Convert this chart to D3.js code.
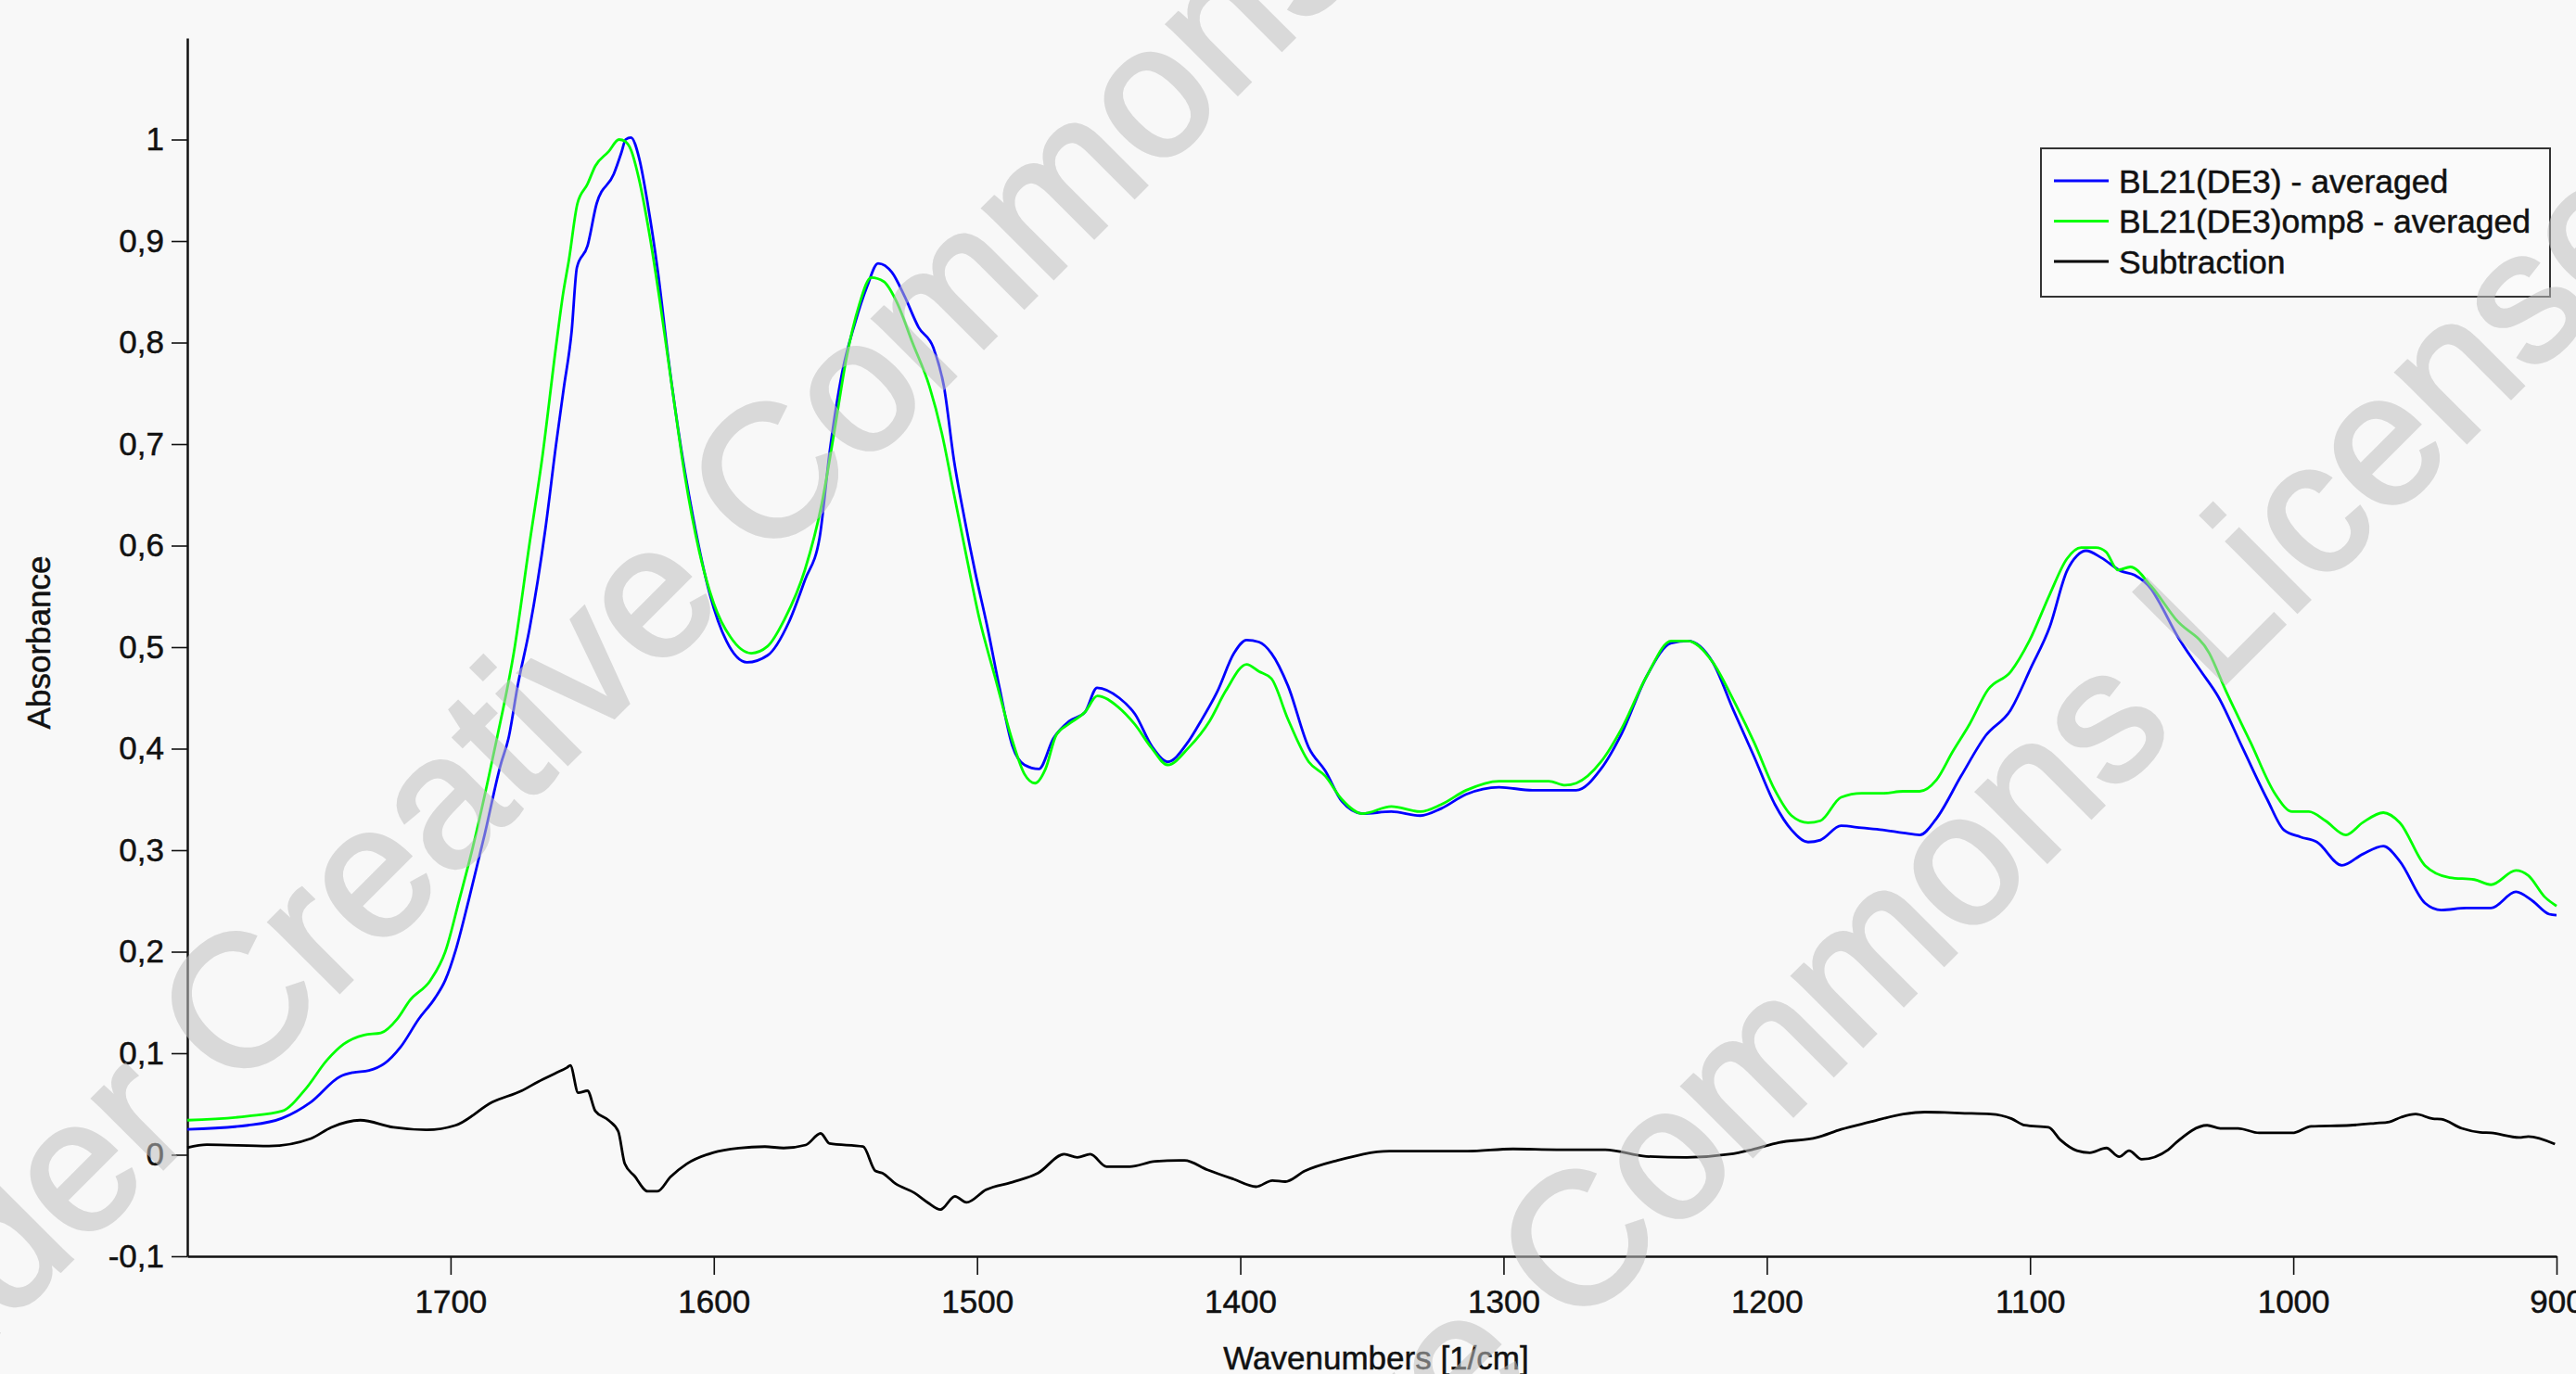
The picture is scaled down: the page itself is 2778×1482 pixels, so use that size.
<!DOCTYPE html>
<html>
<head>
<meta charset="utf-8">
<script src="https://cdn.jsdelivr.net/npm/d3@7"></script>
<style>
  body { margin: 0; background: #f8f8f8; }
  svg { display: block; }
  text { font-family: "Liberation Sans", Arial, sans-serif; }
</style>
</head>
<body>
<svg id="chart"></svg>
<script>
// values: [wavenumber 1/cm, absorbance]
let bl21 = [[1800,0.025],[1777,0.029],[1764,0.036],[1753,0.052],[1742,0.077],[1737,0.081],[1731,0.083],[1725,0.090],[1719,0.106],[1712,0.134],[1706,0.154],[1702,0.172],[1698,0.202],[1693,0.252],[1687,0.316],[1681,0.384],[1678,0.41],[1674.5,0.462],[1670,0.518],[1664,0.616],[1660,0.698],[1657,0.755],[1654,0.811],[1652,0.874],[1648,0.895],[1644.5,0.937],[1638,0.966],[1635,0.988],[1633.5,1.0],[1631.5,1.002],[1628.3,0.981],[1625,0.935],[1621.2,0.869],[1617.3,0.785],[1612.5,0.697],[1607.8,0.627],[1601.5,0.552],[1595.2,0.506],[1587.4,0.485],[1579.5,0.492],[1571.6,0.524],[1565.4,0.566],[1559.8,0.608],[1556,0.692],[1551.2,0.771],[1546.5,0.818],[1541.8,0.855],[1537.6,0.878],[1532.3,0.869],[1527.6,0.846],[1522.2,0.815],[1516.6,0.795],[1512.6,0.757],[1508.7,0.683],[1504.8,0.627],[1500.8,0.575],[1496.1,0.52],[1491.4,0.459],[1486.6,0.403],[1482,0.384],[1476.5,0.380],[1471,0.41],[1465,0.427],[1459,0.436],[1454.4,0.46],[1446,0.450],[1440,0.434],[1433.5,0.402],[1427.6,0.387],[1420,0.406],[1415,0.427],[1408.6,0.457],[1402.4,0.494],[1397.6,0.507],[1392.9,0.505],[1388.2,0.494],[1381.9,0.462],[1374,0.401],[1367.7,0.378],[1361.4,0.348],[1353.6,0.336],[1342.6,0.338],[1331.6,0.334],[1323.7,0.341],[1314.2,0.355],[1301.7,0.362],[1289,0.359],[1272.4,0.359],[1263,0.380],[1255.1,0.415],[1245.7,0.471],[1236.3,0.504],[1230,0.506],[1220.5,0.485],[1212.7,0.438],[1204.8,0.392],[1196.9,0.345],[1190.6,0.320],[1184.3,0.308],[1179.6,0.310],[1171.8,0.324],[1163.9,0.322],[1156,0.320],[1148.1,0.317],[1141.9,0.315],[1135.6,0.331],[1126.2,0.373],[1116.8,0.413],[1107.4,0.438],[1099.6,0.480],[1092.5,0.52],[1086,0.575],[1082.2,0.590],[1078.7,0.595],[1072.9,0.588],[1065.5,0.575],[1060.3,0.571],[1053.9,0.557],[1050,0.54],[1044.5,0.513],[1035,0.476],[1028.7,0.452],[1019.3,0.401],[1009.9,0.350],[1003.6,0.320],[997.3,0.313],[991,0.308],[981.5,0.285],[973.7,0.296],[965.8,0.304],[959.5,0.289],[950,0.248],[943.7,0.241],[934.3,0.243],[924.9,0.243],[915.4,0.259],[909.1,0.25],[902.8,0.237],[900,0.236]];

let omp8 = [[1800,0.034],[1777,0.038],[1764,0.043],[1755,0.065],[1747,0.093],[1740.6,0.109],[1732.8,0.118],[1726.5,0.12],[1720.2,0.134],[1715.5,0.152],[1707.6,0.172],[1702,0.2],[1696.6,0.252],[1692,0.298],[1685.6,0.371],[1682.4,0.41],[1676,0.494],[1670,0.602],[1665,0.69],[1660,0.795],[1657.2,0.849],[1655,0.882],[1651.8,0.937],[1648,0.956],[1645,0.974],[1640,0.988],[1636,1.0],[1633.6,0.998],[1631.5,0.99],[1628.5,0.962],[1624.4,0.906],[1620.5,0.841],[1615.7,0.753],[1611,0.669],[1605.5,0.594],[1600,0.543],[1593.7,0.510],[1585.8,0.494],[1579.5,0.501],[1573.2,0.527],[1565.4,0.576],[1559,0.641],[1554.3,0.711],[1549.6,0.785],[1544.9,0.836],[1540.2,0.864],[1535.4,0.860],[1530.7,0.841],[1524.4,0.799],[1518.1,0.757],[1513.4,0.711],[1508.7,0.650],[1504,0.589],[1499.2,0.529],[1492.9,0.468],[1486.6,0.408],[1482,0.375],[1478,0.366],[1474,0.380],[1470,0.413],[1465.3,0.424],[1459,0.436],[1454.3,0.452],[1446.4,0.441],[1440.1,0.424],[1433.8,0.401],[1427.6,0.384],[1419.6,0.401],[1411.7,0.427],[1405.5,0.457],[1397.6,0.483],[1392.9,0.476],[1388.2,0.469],[1381.9,0.429],[1374,0.387],[1367.7,0.373],[1361.4,0.350],[1353.6,0.336],[1342.6,0.343],[1331.6,0.338],[1323.7,0.345],[1314.2,0.359],[1301.7,0.368],[1282.8,0.368],[1276.6,0.364],[1272.4,0.366],[1263,0.387],[1255.1,0.42],[1245.7,0.471],[1236.3,0.506],[1230,0.506],[1220.5,0.485],[1212.7,0.448],[1204.8,0.406],[1196.9,0.359],[1190.6,0.334],[1184.3,0.327],[1179.6,0.329],[1171.8,0.352],[1163.9,0.356],[1156,0.356],[1148.1,0.358],[1141.9,0.358],[1135.6,0.369],[1129.4,0.397],[1123,0.424],[1116,0.458],[1107.3,0.476],[1100.3,0.506],[1092.5,0.552],[1086,0.587],[1080.6,0.598],[1075,0.598],[1071.2,0.594],[1066.6,0.576],[1061.9,0.579],[1054,0.560],[1044.5,0.527],[1031.9,0.494],[1025.6,0.457],[1016.2,0.406],[1006.8,0.355],[1000.4,0.338],[994.1,0.338],[987.8,0.329],[980,0.315],[973.7,0.327],[965.8,0.337],[959.5,0.327],[950,0.285],[940.6,0.273],[931.2,0.271],[924.9,0.266],[915.4,0.280],[910.7,0.275],[904.5,0.254],[900,0.245]];

let subtraction = [[1800,0.007],[1792.6,0.010],[1769,0.0085],[1753,0.016],[1745.3,0.027],[1734.3,0.034],[1721.7,0.027],[1709.1,0.0245],[1698.1,0.029],[1684,0.052],[1673,0.063],[1666.7,0.072],[1660.4,0.080],[1655.7,0.086],[1654.5,0.088],[1651.5,0.061],[1648,0.063],[1645,0.043],[1640,0.034],[1636.3,0.023],[1633.8,-0.009],[1630.1,-0.021],[1625.1,-0.036],[1621.4,-0.036],[1616.5,-0.022],[1610.3,-0.009],[1600.4,0.002],[1590.5,0.0066],[1580.6,0.008],[1573.5,0.0066],[1565.1,0.0096],[1559.4,0.021],[1556,0.011],[1543.3,0.008],[1538.6,-0.016],[1536,-0.018],[1531,-0.0285],[1523.8,-0.0376],[1518.8,-0.047],[1513.9,-0.054],[1508.4,-0.041],[1504,-0.047],[1496.6,-0.0345],[1486.6,-0.027],[1476.8,-0.018],[1466.9,0.0005],[1461.9,-0.0026],[1457,0.0005],[1450.8,-0.0117],[1442.1,-0.0117],[1432.3,-0.0066],[1421.2,-0.0056],[1412.5,-0.0148],[1402.6,-0.024],[1394,-0.0315],[1387.8,-0.0254],[1382.9,-0.0265],[1375.5,-0.016],[1363.1,-0.0056],[1343.4,0.0035],[1313.7,0.0035],[1296.4,0.0057],[1279.8,0.005],[1261.4,0.005],[1245.7,-0.0017],[1230.4,-0.0026],[1214.2,0.0005],[1205.7,0.005],[1195.4,0.012],[1181,0.017],[1171.8,0.025],[1161.2,0.032],[1148.1,0.040],[1140,0.042],[1132.4,0.0416],[1126.6,0.041],[1115,0.040],[1107,0.0355],[1102,0.029],[1093,0.027],[1088.4,0.0145],[1082.2,0.004],[1077.3,0.002],[1071,0.0066],[1066.1,-0.002],[1062.4,0.004],[1057.6,-0.0045],[1047.5,0.005],[1044.5,0.012],[1032.7,0.029],[1027.7,0.026],[1021,0.026],[1013,0.0215],[1000.4,0.0215],[993.2,0.028],[978.4,0.029],[969,0.031],[963.5,0.0324],[959,0.037],[953.5,0.040],[947,0.0355],[943.8,0.035],[936,0.026],[929,0.022],[924.9,0.0215],[914.2,0.017],[910.7,0.018],[900.6,0.0105]];

let seriesNames = ["BL21(DE3) - averaged", "BL21(DE3)omp8 - averaged", "Subtraction"];
let seriesColors = ["#0000ff", "#00ff00", "#000000"];

let xTicks = [1700, 1600, 1500, 1400, 1300, 1200, 1100, 1000, 900];
let yTicks = [-0.1, 0, 0.1, 0.2, 0.3, 0.4, 0.5, 0.6, 0.7, 0.8, 0.9, 1];

let width = 2778, height = 1482;
let fontSize = 35;

let svg = d3.select("#chart")
  .attr("width", width)
  .attr("height", height)
  .attr("viewBox", [0, 0, width, height]);

svg.append("rect")
  .attr("width", width)
  .attr("height", height)
  .attr("fill", "#f8f8f8");

// wavenumbers run right to left, as usual for IR spectra
let x = d3.scaleLinear().domain([1800, 900]).range([202, 2757]);
let y = d3.scaleLinear().domain([-0.1, 1.1]).range([1355, 41]);

let commaFormat = d => String(+d.toFixed(1)).replace(".", ",");

let yAxis = svg.append("g")
  .attr("transform", `translate(${x(1800)},0)`)
  .call(d3.axisLeft(y).tickValues(yTicks).tickFormat(commaFormat).tickSize(17).tickSizeOuter(0).tickPadding(8));

let xAxis = svg.append("g")
  .attr("transform", `translate(0,${y(-0.1)})`)
  .call(d3.axisBottom(x).tickValues(xTicks).tickFormat(d3.format("d")).tickSize(20).tickSizeOuter(0).tickPadding(16));

[xAxis, yAxis].forEach(g => {
  g.select(".domain").attr("stroke", "#111").attr("stroke-width", 2.5);
  g.selectAll(".tick line").attr("stroke", "#111").attr("stroke-width", 1.6);
  g.selectAll(".tick text")
    .attr("fill", "#111")
    .attr("stroke", "#111")
    .attr("stroke-width", 0.5)
    .style("font-size", fontSize + "px")
    .style("font-family", '"Liberation Sans", Arial, sans-serif');
});

svg.append("text")
  .attr("transform", "translate(54,693) rotate(-90)")
  .attr("text-anchor", "middle")
  .attr("fill", "#111")
  .attr("stroke", "#111")
  .attr("stroke-width", 0.5)
  .style("font-size", fontSize + "px")
  .text("Absorbance");

svg.append("text")
  .attr("x", 1484)
  .attr("y", 1477)
  .attr("text-anchor", "middle")
  .attr("fill", "#111")
  .attr("stroke", "#111")
  .attr("stroke-width", 0.5)
  .style("font-size", fontSize + "px")
  .text("Wavenumbers [1/cm]");

let line = d3.line()
  .x(d => x(d[0]))
  .y(d => y(d[1]))
  .curve(d3.curveMonotoneX);

let allSeries = [bl21, omp8, subtraction];

svg.append("g")
  .selectAll("path")
  .data(allSeries)
  .join("path")
  .attr("d", line)
  .attr("fill", "none")
  .attr("stroke", (d, i) => seriesColors[i])
  .attr("stroke-width", 2.8)
  .attr("stroke-linejoin", "round");

// legend box, top right
let legend = svg.append("g").attr("transform", "translate(2201,160)");

legend.append("rect")
  .attr("width", 549)
  .attr("height", 160)
  .attr("fill", "#fafafa")
  .attr("stroke", "#333")
  .attr("stroke-width", 2);

let rows = legend.selectAll(".row")
  .data(seriesNames)
  .join("g")
  .attr("class", "row")
  .attr("transform", (d, i) => `translate(0,${35 + i * 43.5})`);

rows.append("line")
  .attr("x1", 14)
  .attr("x2", 73)
  .attr("stroke", (d, i) => seriesColors[i])
  .attr("stroke-width", 3);

rows.append("text")
  .attr("x", 84)
  .attr("dy", "0.36em")
  .attr("fill", "#111")
  .attr("stroke", "#111")
  .attr("stroke-width", 0.5)
  .style("font-size", "35.5px")
  .text(d => d);

// diagonal watermark lying over the plot, drawn as one translucent layer
let mark = svg.append("g")
  .attr("opacity", 0.55)
  .attr("fill", "#c0c0c0")
  .attr("stroke", "#c0c0c0")
  .attr("stroke-width", 4)
  .style("font-size", "202px")
  .style("pointer-events", "none");

[[825, 611], [1698, 1439]].forEach(p => {
  let g = mark.append("g").attr("transform", `translate(${p[0]},${p[1]}) rotate(-45)`);
  g.append("text").attr("text-anchor", "end").text("Licensed under Creative\u00a0");
  g.append("text").attr("text-anchor", "start").text("Commons License");
});
</script>
</body>
</html>
